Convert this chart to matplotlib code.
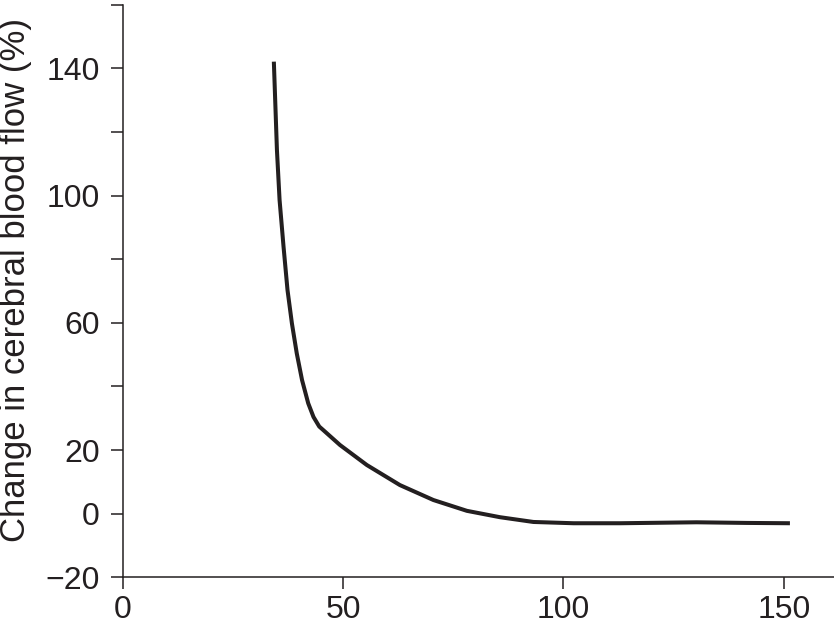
import matplotlib
matplotlib.use("Agg")
import matplotlib.pyplot as plt

# values
x_vals = [34.3, 35.0, 35.6, 36.5, 37.4, 38.4, 39.5, 40.7, 42.1, 43.3,
          44.6, 45.5, 49.3, 55.4, 62.9, 70.5, 78.1, 85.6, 93.2, 102.3,
          112.9, 130.2, 141.6, 151.4]
y_vals = [142.1, 114.3, 98.6, 83.9, 70.3, 59.8, 50.4, 42.0, 34.7, 30.4,
          27.4, 26.3, 21.6, 15.3, 9.0, 4.3, 0.9, -1.1, -2.6, -3.0,
          -3.0, -2.7, -2.9, -3.0]

x_ticks = [0, 50, 100, 150]
y_ticks = [-20, 0, 20, 40, 60, 80, 100, 120, 140, 160]
y_labels = ["\u221220", "0", "20", "", "60", "", "100", "", "140", ""]

ink = "#231f20"
plt.rcParams["font.family"] = ["Liberation Sans", "DejaVu Sans"]

fig = plt.figure(figsize=(8.34, 6.28), dpi=100)
ax = fig.add_axes([0.1471, 0.0807, 0.8529, 0.9118])

ax.plot(x_vals, y_vals, color=ink, lw=2.9, solid_capstyle="butt",
        solid_joinstyle="round")

ax.set_xlim(0, 161.4)
ax.set_ylim(-20, 160)
ax.set_xticks(x_ticks)
ax.set_yticks(y_ticks)
ax.set_yticklabels(y_labels)

for side in ["top", "right"]:
    ax.spines[side].set_visible(False)
for side in ["left", "bottom"]:
    ax.spines[side].set_linewidth(1.1)
    ax.spines[side].set_color(ink)

ax.tick_params(direction="out", length=8.6, width=1.1, color=ink,
               labelsize=23, labelcolor=ink)
ax.tick_params(axis="x", pad=4)
ax.tick_params(axis="y", pad=8)

ax.set_ylabel("Change in cerebral blood flow (%)", fontsize=25, color=ink)
ax.yaxis.set_label_coords(-0.128, 0.52)

fig.savefig("out.png", dpi=100)
